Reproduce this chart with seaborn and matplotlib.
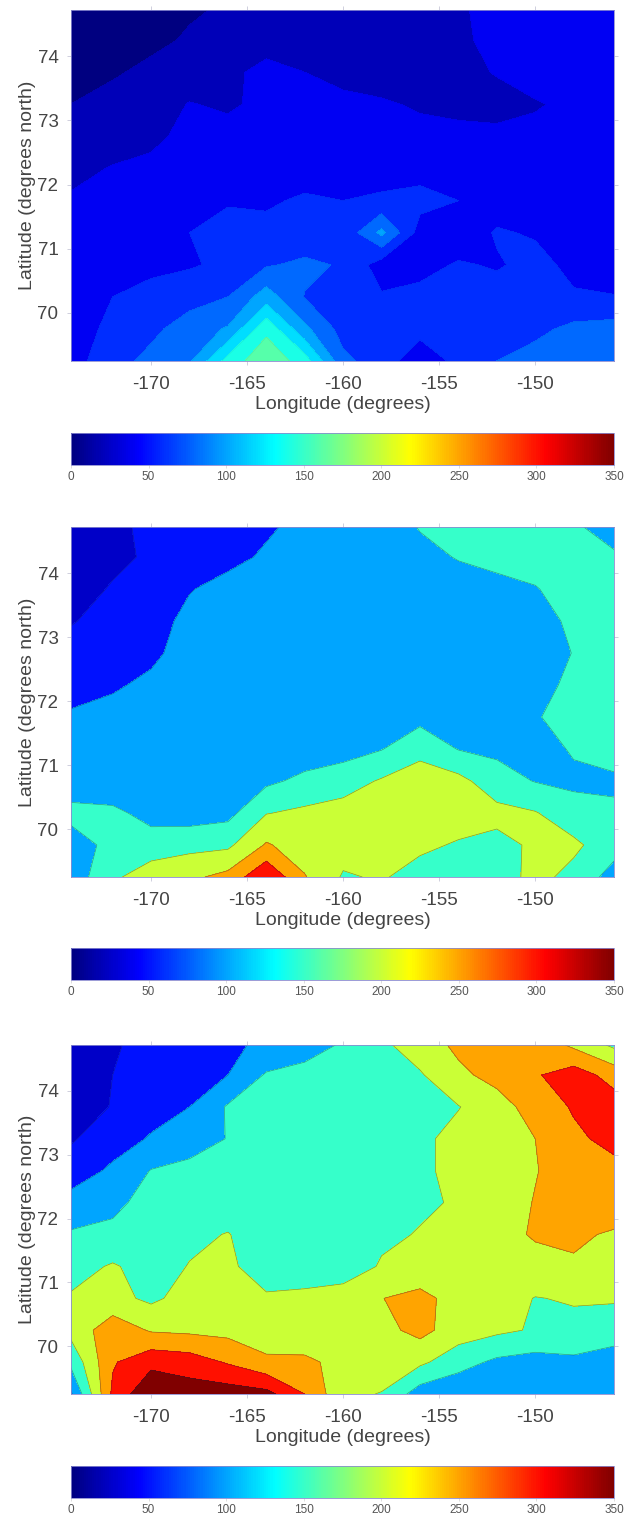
import numpy as np
import matplotlib
matplotlib.use("Agg")
import matplotlib.pyplot as plt
from matplotlib.cm import ScalarMappable
from matplotlib.colors import Normalize, LinearSegmentedColormap
import seaborn as sns

sns.set_theme(style="white")
plt.rcParams['font.family'] = ['Liberation Sans', 'DejaVu Sans']

lons = [-174.2, -172, -170, -168, -166, -164, -162, -160, -158, -156, -154, -152, -150, -148, -145.9]
lats = [74.72, 74.25, 73.75, 73.25, 72.75, 72.25, 71.75, 71.25, 70.75, 70.25, 69.75, 69.25]

panel_a = [
    [5, 8, 12, 18, 22, 28, 30, 30, 30, 32, 38, 45, 50, 52, 55],
    [5, 10, 16, 22, 26, 33, 30, 30, 30, 32, 36, 46, 50, 52, 55],
    [12, 18, 24, 28, 36, 45, 40, 35, 32, 33, 35, 41, 50, 52, 52],
    [20, 26, 30, 41, 37, 45, 46, 44, 42, 38, 36, 34, 38, 45, 50],
    [25, 32, 36, 45, 47, 48, 48, 47, 46, 45, 44, 44, 46, 48, 50],
    [35, 41, 44, 46, 48, 50, 50, 50, 52, 53, 52, 50, 50, 50, 50],
    [42, 45, 48, 52, 58, 57, 63, 60, 63, 66, 60, 50, 48, 47, 46],
    [44, 47, 50, 60, 68, 66, 67, 65, 105, 52, 47, 62, 58, 48, 46],
    [47, 50, 54, 58, 64, 78, 84, 78, 50, 53, 62, 58, 66, 55, 48],
    [46, 60, 68, 72, 80, 110, 79, 61, 62, 66, 70, 68, 66, 62, 61],
    [50, 65, 75, 90, 102, 155, 105, 72, 66, 66, 68, 70, 75, 85, 88],
    [52, 72, 86, 97, 148, 175, 150, 85, 70, 48, 65, 80, 88, 88, 90],
]
panel_b = [
    [35, 45, 55, 65, 80, 95, 110, 120, 130, 152, 165, 170, 175, 165, 105],
    [30, 42, 55, 70, 90, 105, 115, 122, 130, 140, 152, 160, 165, 170, 165],
    [35, 53, 65, 98, 112, 118, 120, 122, 125, 130, 135, 140, 148, 165, 170],
    [48, 60, 85, 110, 115, 118, 120, 120, 122, 125, 128, 132, 140, 155, 165],
    [60, 75, 95, 110, 115, 118, 120, 120, 122, 125, 128, 130, 135, 151, 165],
    [85, 97, 105, 112, 115, 118, 120, 120, 122, 125, 125, 130, 138, 158, 165],
    [105, 108, 110, 112, 115, 118, 120, 125, 130, 135, 135, 130, 148, 160, 170],
    [105, 105, 108, 110, 112, 115, 122, 130, 148, 185, 148, 140, 130, 155, 175],
    [120, 118, 115, 112, 120, 140, 162, 178, 205, 225, 215, 170, 148, 140, 140],
    [165, 160, 135, 125, 135, 198, 210, 220, 230, 235, 225, 215, 203, 170, 160],
    [125, 165, 170, 185, 190, 255, 225, 220, 230, 210, 195, 185, 208, 210, 170],
    [120, 190, 230, 240, 265, 345, 253, 195, 205, 180, 165, 175, 215, 185, 130],
]
panel_c = [
    [35, 45, 65, 80, 95, 105, 130, 155, 190, 225, 260, 280, 285, 240, 190],
    [30, 50, 70, 88, 100, 155, 165, 170, 180, 195, 240, 265, 295, 325, 280],
    [30, 52, 78, 100, 155, 165, 170, 175, 180, 185, 198, 230, 270, 305, 325],
    [45, 75, 105, 125, 152, 165, 170, 175, 180, 190, 215, 235, 250, 290, 315],
    [70, 110, 152, 165, 170, 175, 178, 178, 180, 190, 215, 235, 248, 270, 285],
    [120, 140, 165, 170, 175, 175, 178, 178, 185, 192, 205, 230, 252, 270, 275],
    [155, 160, 170, 190, 202, 175, 175, 178, 190, 203, 225, 240, 253, 257, 245],
    [180, 205, 180, 202, 215, 160, 165, 170, 205, 215, 225, 230, 240, 245, 235],
    [205, 215, 190, 220, 230, 210, 215, 225, 249, 265, 230, 225, 198, 205, 205],
    [215, 280, 245, 240, 235, 220, 215, 225, 235, 265, 225, 210, 195, 185, 175],
    [160, 295, 335, 325, 295, 260, 260, 235, 225, 210, 170, 140, 130, 140, 125],
    [90, 310, 395, 375, 375, 365, 300, 210, 198, 125, 110, 105, 105, 105, 105],
]
panels = [panel_a, panel_b, panel_c]
levels_fine = [0, 20, 40, 60, 80, 100, 120, 140, 160, 180]
levels_coarse = [25, 50, 100, 150, 200, 250, 300, 350, 400]
panel_levels = [levels_fine, levels_coarse, levels_coarse]
line_alpha = [0.08, 0.45, 0.45]

lon_ticks = [-170, -165, -160, -155, -150]
lat_ticks = [70, 71, 72, 73, 74]
bar_ticks = [0, 50, 100, 150, 200, 250, 300, 350]
xlabel = "Longitude (degrees)"
ylabel = "Latitude (degrees north)"
jet_anchors = [(0, (0, 0, .5)), (.125, (0, 0, 1)), (.375, (0, 1, 1)),
               (.625, (1, 1, 0)), (.875, (1, 0, 0)), (1, (.5, 0, 0))]

W, H = 626, 1518
fig = plt.figure(figsize=(W / 100, H / 100), dpi=100, facecolor="white")
jet = LinearSegmentedColormap.from_list("matlab_jet", jet_anchors, N=256)
norm = Normalize(0, 350)
ink = "#444444"
edge = "#8a8ad0"


def box(x0, y0, x1, y1):
    return [x0 / W, 1 - y1 / H, (x1 - x0) / W, (y1 - y0) / H]


axes_px = [(10, 361), (527, 877), (1045, 1394)]
bars_px = [(433, 465), (948, 980), (1466, 1498)]

for values, levels, alpha, (t, b), (ct, cb) in zip(panels, panel_levels, line_alpha, axes_px, bars_px):
    ax = fig.add_axes(box(71, t, 614, b))
    Z = np.array(values, dtype=float)[::-1]
    Y = np.array(lats)[::-1]
    band_colors = [jet(norm(v)) for v in levels[:-1]]
    ax.contourf(lons, Y, Z, levels=levels, colors=band_colors)
    ax.contour(lons, Y, Z, levels=levels, colors="#202040", linewidths=0.5, alpha=alpha)
    ax.set_xlim(-174.17, -145.9)
    ax.set_ylim(69.25, 74.72)
    ax.set_xticks(lon_ticks)
    ax.set_yticks(lat_ticks)
    ax.set_xticklabels([str(v) for v in lon_ticks])
    ax.tick_params(axis="both", direction="out", length=3, width=0.6, color="#c8c8d8",
                   top=True, right=True, bottom=True, left=True, labelsize=13.5,
                   labelcolor=ink, pad=6)
    ax.tick_params(axis="x", pad=8)
    ax.set_xlabel(xlabel, fontsize=14, color=ink, labelpad=2)
    ax.set_ylabel(ylabel, fontsize=14, color=ink, labelpad=1)
    ax.grid(False)
    for s in ax.spines.values():
        s.set_linewidth(0.6)
        s.set_color(edge)

    cax = fig.add_axes(box(71, ct, 614, cb))
    cbar = fig.colorbar(ScalarMappable(norm=norm, cmap=jet), cax=cax, orientation="horizontal", ticks=bar_ticks)
    cbar.outline.set_linewidth(0.6)
    cbar.outline.set_edgecolor(edge)
    cax.tick_params(axis="x", length=2, width=0.5, color="#d0d0d0", labelsize=8.5, labelcolor="#555555", pad=2, bottom=True)

fig.savefig("out.png", dpi=100)
